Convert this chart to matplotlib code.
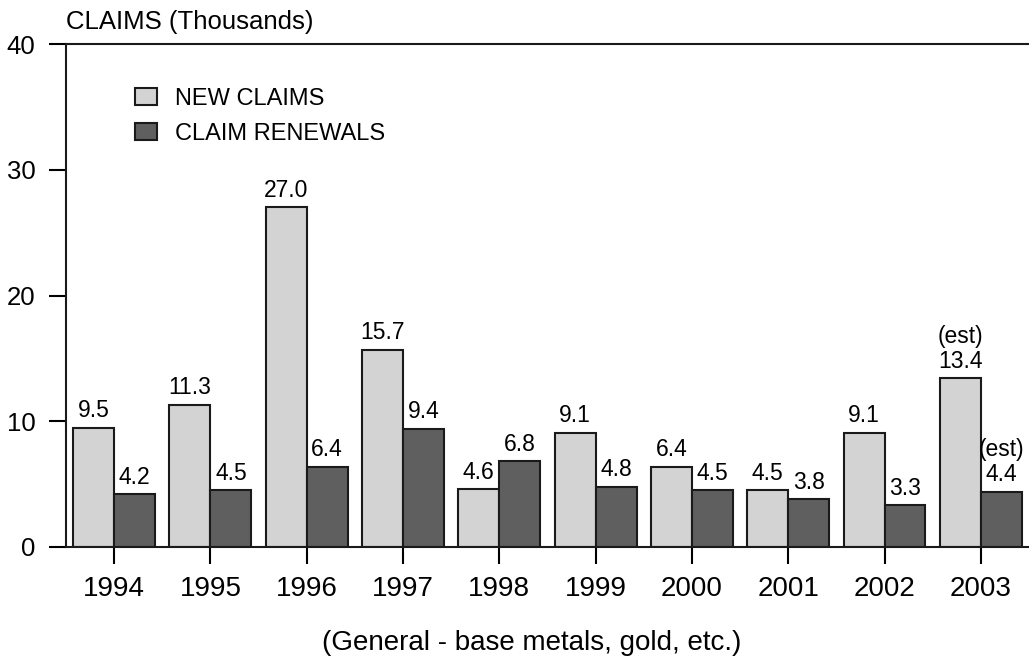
import matplotlib.pyplot as plt
import numpy as np

plt.rcParams['font.family'] = ['Liberation Sans', 'DejaVu Sans']

years = ['1994', '1995', '1996', '1997', '1998', '1999', '2000', '2001', '2002', '2003']
new_claims = [9.5, 11.3, 27.0, 15.7, 4.6, 9.1, 6.4, 4.5, 9.1, 13.4]
renewals = [4.2, 4.5, 6.4, 9.4, 6.8, 4.8, 4.5, 3.8, 3.3, 4.4]
estimated = [False] * 9 + [True]

fig = plt.figure(figsize=(10.29, 6.66), dpi=100)
ax = fig.add_axes([0.0641, 0.1787, 0.9359, 0.7552])

x = np.arange(len(years))
w = 0.425
b1 = ax.bar(x - w/2, new_claims, w, color='#d3d3d3', edgecolor='#1a1a1a', linewidth=1.5,
            label='NEW CLAIMS')
b2 = ax.bar(x + w/2, renewals, w, color='#5f5f5f', edgecolor='#1a1a1a', linewidth=1.5,
            label='CLAIM RENEWALS')

for i in range(len(years)):
    lab1 = f'{new_claims[i]:.1f}'
    lab2 = f'{renewals[i]:.1f}'
    if estimated[i]:
        lab1 = '(est)\n' + lab1
        lab2 = '(est)\n' + lab2
    ax.annotate(lab1, (x[i] - w/2, new_claims[i]), xytext=(0, 4), textcoords='offset points',
                ha='center', va='bottom', fontsize=16.5, linespacing=1.1)
    ax.annotate(lab2, (x[i] + w/2, renewals[i]), xytext=(0, 4), textcoords='offset points',
                ha='center', va='bottom', fontsize=16.5, linespacing=1.1)

ax.set_xlim(-0.5, 9.5)
ax.set_ylim(0, 40)
ax.set_yticks([0, 10, 20, 30, 40])
ax.set_xticks(x)
ax.set_xticklabels(years)
ax.spines['right'].set_visible(False)
for s in ['left', 'top', 'bottom']:
    ax.spines[s].set_linewidth(1.5)
    ax.spines[s].set_color('#1a1a1a')
ax.tick_params(axis='y', length=12, width=1.5, labelsize=18.5, pad=10)
ax.tick_params(axis='x', length=12, width=1.5, labelsize=20, pad=9)

ax.text(0.0, 1.02, 'CLAIMS (Thousands)', transform=ax.transAxes, fontsize=18.5,
        ha='left', va='bottom')
ax.set_xlabel('(General - base metals, gold, etc.)', fontsize=20)
ax.xaxis.set_label_coords(0.484, -0.165)

ax.legend(loc='upper left', bbox_to_anchor=(0.05, 0.955), frameon=False, fontsize=17,
          handlelength=0.9, handleheight=0.7, handletextpad=0.8, labelspacing=0.55)

plt.savefig('out.png', dpi=100)
